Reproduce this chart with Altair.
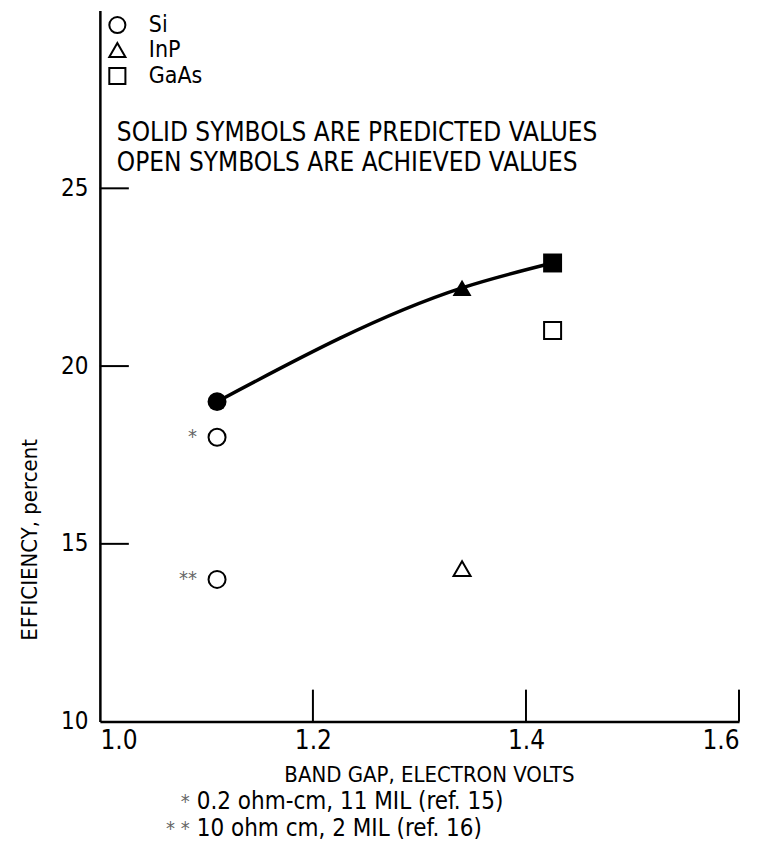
import altair as alt
import pandas as pd

FONT = "DejaVu Sans Condensed, Liberation Sans Narrow, Roboto, sans-serif"

materials = ["Si", "InP", "GaAs"]
shapes = ["circle", "triangle-up", "square"]

# predicted (solid symbols, joined by curve)
pred_material = ["Si", "InP", "GaAs"]
pred_gap = [1.11, 1.34, 1.425]
pred_eff = [19.0, 22.2, 22.9]

# achieved (open symbols)
ach_material = ["Si", "Si", "InP", "GaAs"]
ach_gap = [1.11, 1.11, 1.34, 1.425]
ach_eff = [18.0, 14.0, 14.3, 21.0]
ach_note = ["*", "**", "", ""]

x_ticks = [1.2, 1.4, 1.6]
y_ticks = [15, 20, 25]
x_labels = [1.0, 1.2, 1.4, 1.6]
y_labels = [10, 15, 20, 25]

pred = pd.DataFrame({"material": pred_material, "gap": pred_gap, "eff": pred_eff})
ach = pd.DataFrame({"material": ach_material, "gap": ach_gap, "eff": ach_eff, "note": ach_note})
xt = pd.DataFrame({"gap": x_ticks})
yt = pd.DataFrame({"eff": y_ticks})

W, H = 640, 712

xscale = alt.Scale(domain=[1.0, 1.6], nice=False, zero=False)
yscale = alt.Scale(domain=[10, 30], nice=False, zero=False)
shape_scale = alt.Scale(domain=materials, range=shapes)

X = alt.X("gap:Q", scale=xscale,
          axis=alt.Axis(values=x_labels, format=".1f", title=None, ticks=False, grid=False,
                        domainColor="black", domainWidth=2.5, labelFontSize=26,
                        labelColor="black", labelPadding=6, labelFont=FONT))
Y = alt.Y("eff:Q", scale=yscale,
          axis=alt.Axis(values=y_labels, format="d", title=None, ticks=False, grid=False,
                        domainColor="black", domainWidth=2.5, labelFontSize=24,
                        labelColor="black", labelPadding=12, labelFont=FONT))

legend = alt.Legend(title=None, orient="none", legendX=6, legendY=3,
                    labelFontSize=23, labelFont=FONT, labelColor="black",
                    symbolSize=260, symbolStrokeWidth=2, symbolStrokeColor="black",
                    symbolFillColor="white", labelOffset=20, rowPadding=1)

achieved = alt.Chart(ach).mark_point(filled=False, color="black", strokeWidth=2, size=290, opacity=1).encode(
    x=X, y=Y, shape=alt.Shape("material:N", scale=shape_scale, legend=legend)
)

curve = alt.Chart(pred).mark_line(color="black", strokeWidth=3.4, interpolate="monotone").encode(
    x=alt.X("gap:Q", scale=xscale), y=alt.Y("eff:Q", scale=yscale)
)

predicted = alt.Chart(pred).mark_point(filled=True, color="black", size=360, opacity=1).encode(
    x=alt.X("gap:Q", scale=xscale), y=alt.Y("eff:Q", scale=yscale),
    shape=alt.Shape("material:N", scale=shape_scale, legend=None)
)

notes = alt.Chart(ach).mark_text(align="right", baseline="middle", dx=-20, fontSize=20,
                                 font=FONT, color="#666").encode(
    x=alt.X("gap:Q", scale=xscale), y=alt.Y("eff:Q", scale=yscale), text="note:N"
)

xtick_rules = alt.Chart(xt).mark_rule(color="black", strokeWidth=2).encode(
    x=alt.X("gap:Q", scale=xscale), y=alt.value(H - 32), y2=alt.value(H)
)
ytick_rules = alt.Chart(yt).mark_rule(color="black", strokeWidth=2).encode(
    y=alt.Y("eff:Q", scale=yscale), x=alt.value(0), x2=alt.value(29)
)

def label(text, x, y, size=21, align="left", angle=0, color="black"):
    return alt.Chart(pd.DataFrame({"t": [text]})).mark_text(
        align=align, baseline="middle", fontSize=size, font=FONT, color=color, angle=angle
    ).encode(text="t:N", x=alt.value(x), y=alt.value(y))

texts = [
    label("SOLID SYMBOLS ARE PREDICTED VALUES", 17, 123, size=26),
    label("OPEN SYMBOLS ARE ACHIEVED VALUES", 17, 153, size=26),
    label("EFFICIENCY, percent", -70, 530, size=22, align="center", angle=270),
    label("BAND GAP, ELECTRON VOLTS", 330, 765, size=22, align="center"),
    label("*", 90, 793, size=20, align="right", color="#666"),
    label("0.2 ohm-cm, 11 MIL (ref. 15)", 97, 793, size=24),
    label("* *", 90, 820, size=20, align="right", color="#666"),
    label("10 ohm cm, 2 MIL (ref. 16)", 97, 820, size=24),
]

chart = alt.layer(
    xtick_rules, ytick_rules, achieved, curve, predicted, notes, *texts
).resolve_legend(shape="independent").properties(
    width=W, height=H,
    autosize=alt.AutoSizeParams(type="none"),
    padding={"left": 92, "top": 2, "right": 10, "bottom": 130},
    background="white",
).configure_view(stroke=None)

chart.save("out.html", embed_options={"renderer": "svg", "actions": False})
